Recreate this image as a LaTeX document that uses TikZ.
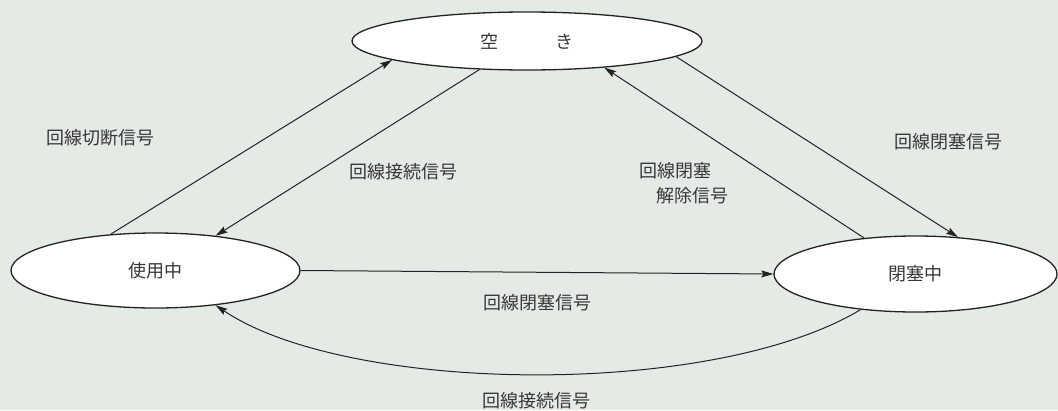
\documentclass[tikz,border=0pt]{standalone}
\usepackage{fontspec}
\newfontfamily\jp{Noto Sans CJK JP}
\usetikzlibrary{shapes.geometric,arrows.meta}
\definecolor{bg}{RGB}{228,235,228}
\definecolor{ink}{RGB}{35,35,35}
\definecolor{txt}{RGB}{55,55,55}
\begin{document}
\begin{tikzpicture}[x=1pt,y=-1pt,
  state/.style={ellipse, draw=ink, line width=1.3pt, fill=white, inner sep=0pt,
    font=\jp\fontsize{18}{20}\selectfont, text=txt},
  lbl/.style={font=\jp\fontsize{18}{25}\selectfont, text=txt, inner sep=0pt},
  conn/.style={draw=ink, line width=1pt, -{Stealth[length=12pt,width=7pt,inset=2pt]}}]
\fill[bg] (0,0) rectangle (1058,410);
\useasboundingbox (0,0) rectangle (1058,410);
% states
\node[state, minimum width=350pt, minimum height=58pt] (free) at (527,41) {空\hspace{57pt}き};
\node[state, minimum width=289pt, minimum height=75pt] (busy) at (155.5,270.5) {使用中};
\node[state, minimum width=283pt, minimum height=76pt] (blocked) at (915.5,274) {閉塞中};
% connectors
\draw[conn] (busy.141) -- (free.-172.5);
\draw[conn] (free.-149.3) -- (busy.30.4);
\draw[conn] (blocked.145.5) -- (free.-19.9);
\draw[conn] (free.-6) -- (blocked.41.2);
\draw[conn] (busy.east) -- (blocked.west);
\draw[conn] (blocked.-147.8) .. controls +(211:173pt) and +(-34:159pt) .. (busy.-30.4);
% labels
\node[lbl] (l1) at (100,138) {回線切断信号};
\node[lbl] (l2) at (403,172) {回線接続信号};
\node[lbl, align=left] (l3) at (684,183) {回線閉塞\\\hspace{17pt}解除信号};
\node[lbl] (l4) at (948,142) {回線閉塞信号};
\node[lbl] (l5) at (537,303) {回線閉塞信号};
\node[lbl] (l6) at (536,401) {回線接続信号};
\end{tikzpicture}
\end{document}
